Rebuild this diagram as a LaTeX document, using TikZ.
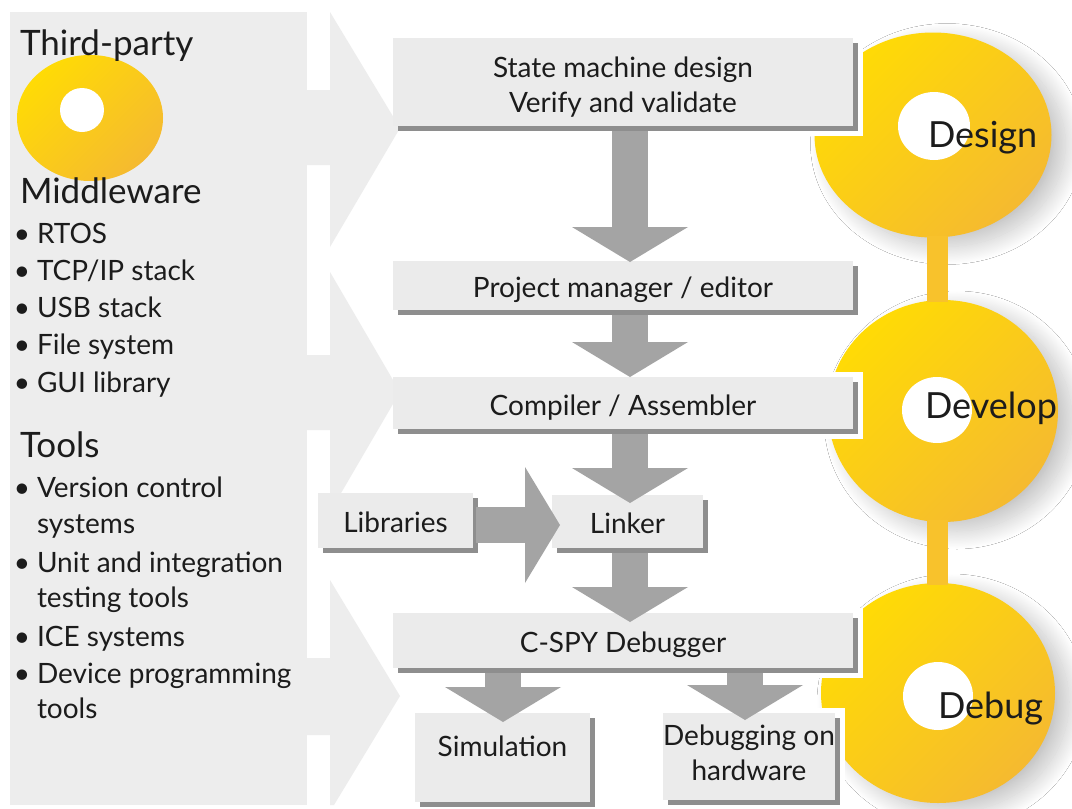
\documentclass[tikz,border=0pt]{standalone}
\usepackage{fontspec}
\setmainfont{Lato}
\usetikzlibrary{shapes.geometric,shadows,shadows.blur,arrows.meta}
\definecolor{panel}{HTML}{EDEDED}
\definecolor{boxfill}{HTML}{EBEBEB}
\definecolor{boxshade}{HTML}{8E8E8E}
\definecolor{flowgray}{HTML}{A4A4A4}
\definecolor{yelA}{HTML}{FFDB05}
\definecolor{yelB}{HTML}{F5BA30}
\definecolor{yelbar}{HTML}{F8C22C}
\definecolor{ink}{HTML}{1C1C1C}
\begin{document}
\begin{tikzpicture}[x=1pt,y=-1pt,
  every node/.style={text=ink,inner sep=0pt,outer sep=0pt},
  flowbox/.style={fill=boxfill,anchor=north west,align=center,
    font=\fontsize{28}{35}\selectfont,
    general shadow={fill=boxshade,shadow xshift=5pt,shadow yshift=-5pt}},
  oneline/.style={text height=24pt,text depth=0pt},
  backing/.style={fill=white},
  disc/.style={ellipse,top color=yelA,bottom color=yelB,shading angle=45,
    blur shadow={shadow xshift=14pt,shadow yshift=-9pt,shadow blur radius=18pt,
      shadow blur steps=30,shadow opacity=24}},
  smalldisc/.style={ellipse,top color=yelA,bottom color=yelB,shading angle=45},
  hole/.style={ellipse,fill=white},
  phase/.style={anchor=base west,font=\fontsize{36}{40}\selectfont},
  heading/.style={anchor=base west,font=\fontsize{35}{40}\selectfont},
  item/.style={anchor=base west,font=\fontsize{28}{34}\selectfont},
  bul/.style={anchor=base,font=\fontsize{28}{34}\selectfont},
  flow/.style={draw=flowgray,line width=36pt,
    -{Triangle[width=116pt,length=35pt,line width=0pt]}},
  bar/.style={draw=yelbar,line width=21pt},
  chevron/.style={fill=panel}
]
\fill[white] (0,0) rectangle (1072,809);
\useasboundingbox (0,0) rectangle (1072,809);

% left panel and big chevrons
\node[fill=panel,anchor=north west,minimum width=297pt,minimum height=793pt] (panel) at (10,12) {};
\fill[chevron] (300,90) -- (330,90) -- (330,12) -- (400,128) -- (330,247) -- (330,165) -- (300,165) -- cycle;
\fill[chevron] (300,355) -- (330,355) -- (330,272) -- (400,392) -- (330,512) -- (330,430) -- (300,430) -- cycle;
\fill[chevron] (300,658) -- (330,658) -- (330,580) -- (400,696) -- (334,805) -- (330,805) -- (330,735) -- (300,735) -- cycle;

% phase discs
\node[disc,minimum width=237pt,minimum height=205pt] (design) at (933,135) {};
\node[disc,minimum width=230pt,minimum height=222pt] (develop) at (943,411) {};
\node[disc,minimum width=234pt,minimum height=220pt] (debug) at (938,693) {};
\draw[bar] ([xshift=4.5pt,yshift=2pt]design.south) -- ([xshift=-5.5pt,yshift=-2pt]develop.north);
\draw[bar] ([xshift=-5.5pt,yshift=2pt]develop.south) -- ([xshift=-0.5pt,yshift=-2pt]debug.north);
\node[hole,minimum width=72pt,minimum height=68pt] (designhole) at (934,126) {};
\node[hole,minimum width=70pt,minimum height=66pt] (develophole) at (937,410) {};
\node[hole,minimum width=70pt,minimum height=68pt] (debughole) at (938,696) {};

% third-party disc
\node[smalldisc,minimum width=146pt,minimum height=126pt] (tpdisc) at (90,118) {};
\node[hole,minimum width=44pt,minimum height=44pt] (tphole) at (82,110) {};

% white margins round boxes next to discs
\fill[backing] (400,33) rectangle (863,136);
\fill[backing] (400,372) rectangle (863,439);
\fill[backing] (400,608) rectangle (863,678);
\fill[backing] (663,708) rectangle (845,809);

% flow boxes
\node[flowbox,minimum width=460pt,minimum height=88pt,text height=60pt,text depth=0pt] (sm) at (393,38) {State machine design\\Verify and validate};
\node[flowbox,oneline,minimum width=460pt,minimum height=49pt] (pm) at (393,261) {Project manager / editor};
\node[flowbox,oneline,minimum width=460pt,minimum height=52pt] (cc) at (393,377) {Compiler / Assembler};
\node[flowbox,oneline,minimum width=155pt,minimum height=55pt] (lib) at (318,493) {Libraries};
\node[flowbox,oneline,minimum width=151pt,minimum height=53pt] (lk) at (552,495) {Linker};
\node[flowbox,oneline,minimum width=460pt,minimum height=55pt] (cs) at (393,613) {C-SPY Debugger};
\node[flowbox,minimum width=175pt,minimum height=89pt,text depth=22pt] (sim) at (415,713) {Simulation};
\node[flowbox,minimum width=172pt,minimum height=87pt,text height=47pt,text depth=0pt] (hw) at (663,713) {Debugging on\\hardware};

% flow arrows
\draw[flow] ([xshift=7pt,yshift=-5pt]sm.south) -- ([xshift=7pt,yshift=-1pt]pm.north);
\draw[flow] ([xshift=7pt,yshift=-5pt]pm.south) -- ([xshift=7pt]cc.north);
\draw[flow] ([xshift=7pt,yshift=-5pt]cc.south) -- ([xshift=2.5pt,yshift=-8pt]lk.north);
\draw[flow] ([xshift=2.5pt,yshift=-5pt]lk.south) -- ([xshift=7pt,yshift=-9pt]cs.north);
\draw[flow] ([xshift=3pt,yshift=-4.5pt]lib.east) -- ([xshift=8pt,yshift=-3.5pt]lk.west);
\draw[flow] ([xshift=-120pt,yshift=-5pt]cs.south) -- ([xshift=0.5pt,yshift=-9pt]sim.north);
\draw[flow] ([xshift=122pt,yshift=-5pt]cs.south) -- ([xshift=-4pt,yshift=-7pt]hw.north);

% phase labels
\node[phase] (designlbl) at (928,147) {Design};
\node[phase] (developlbl) at (925,418) {Develop};
\node[phase] (debuglbl) at (938,718) {Debug};

% left panel text
\node[heading] (tp) at (20,55) {Third-party};
\node[heading] (mw) at (20,203) {Middleware};
\node[bul] (b1) at (22,243) {•};
\node[item] (i1) at (37,243) {RTOS};
\node[bul] (b2) at (22,280) {•};
\node[item] (i2) at (37,280) {TCP/IP stack};
\node[bul] (b3) at (22,317) {•};
\node[item] (i3) at (37,317) {USB stack};
\node[bul] (b4) at (22,354) {•};
\node[item] (i4) at (37,354) {File system};
\node[bul] (b5) at (22,392) {•};
\node[item] (i5) at (37,392) {GUI library};
\node[heading] (tl) at (20,457) {Tools};
\node[bul] (b6) at (22,497) {•};
\node[item] (i6) at (37,497) {Version control};
\node[item] (i6b) at (37,533) {systems};
\node[bul] (b7) at (22,572) {•};
\node[item] (i7) at (37,572) {Unit and integration};
\node[item] (i7b) at (37,607) {testing tools};
\node[bul] (b8) at (22,646) {•};
\node[item] (i8) at (37,646) {ICE systems};
\node[bul] (b9) at (22,683) {•};
\node[item] (i9) at (37,683) {Device programming};
\node[item] (i9b) at (37,718) {tools};
\end{tikzpicture}
\end{document}
